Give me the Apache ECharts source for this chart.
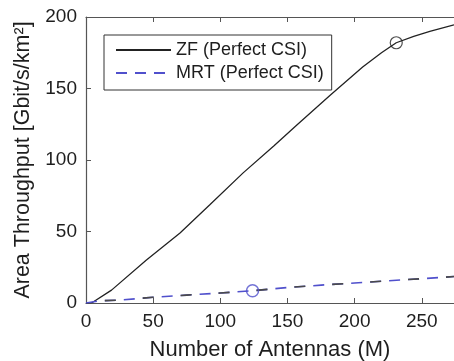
<!DOCTYPE html>
<html>
<head>
<meta charset="utf-8">
<script src="https://cdn.jsdelivr.net/npm/echarts@6/dist/echarts.min.js"></script>
<style>
html,body{margin:0;padding:0;background:#fff;}
#chart{width:454px;height:361px;}
</style>
</head>
<body>
<div id="chart"></div>
<script>
// ---- data ----
const zfAntennas = [0, 5, 19, 45, 70, 92, 117, 140, 157, 182, 206, 220, 231, 244, 256, 274];
const zfThroughput = [0, 0.5, 9, 30, 49, 68.5, 91, 110, 124.5, 145.5, 165, 175, 182, 186.5, 190, 194.5];
const mrtAntennas = [0, 10, 25, 50, 75, 100, 124, 150, 175, 200, 225, 250, 274];
const mrtThroughput = [0, 1.5, 2, 4, 5.5, 7, 8.6, 10.8, 12.5, 14, 15.5, 17, 18.5];
const zfMarker = [[231, 182]];
const mrtMarker = [[124, 8.6]];
const xTicks = [0, 50, 100, 150, 200, 250];
const yTicks = [0, 50, 100, 150, 200];
const seriesNames = ['ZF (Perfect CSI)', 'MRT (Perfect CSI)'];
const xTitle = 'Number of Antennas (M)';
const yTitle = 'Area Throughput [Gbit/s/km²]';

const FONT = '"Liberation Sans", Arial, sans-serif';
const AXIS = '#555';
const TXT = '#1e1e1e';
const BLUE = '#5050cc';

const pairs = (xs, ys) => xs.map((x, i) => [x, ys[i]]);

const chart = echarts.init(document.getElementById('chart'), null, {renderer: 'canvas'});
chart.setOption({
  animation: false,
  backgroundColor: '#fff',
  grid: {left: 86, right: 0, top: 17, bottom: 58, containLabel: false, outerBoundsMode: 'none'},
  legend: {
    show: true,
    orient: 'vertical',
    left: 104, top: 35,
    padding: [6, 8, 8, 11],
    itemGap: 5,
    itemWidth: 55, itemHeight: 14,
    borderColor: '#333', borderWidth: 1,
    backgroundColor: '#fff',
    itemStyle: {opacity: 0},
    textStyle: {fontFamily: FONT, fontSize: 18, color: TXT, lineHeight: 18},
    data: [seriesNames[0], seriesNames[1]]
  },
  xAxis: [{
    type: 'value', min: 0, max: 274, interval: 50, position: 'bottom',
    name: xTitle, nameLocation: 'middle', nameGap: 36,
    nameTextStyle: {fontFamily: FONT, fontSize: 22, color: TXT},
    axisLine: {show: true, lineStyle: {color: AXIS, width: 1.2}},
    axisTick: {show: true, inside: true, length: 5, lineStyle: {color: AXIS}},
    axisLabel: {fontFamily: FONT, fontSize: 19, color: TXT, margin: 9, showMaxLabel: false,
      formatter: v => xTicks.includes(v) ? String(v) : ''},
    splitLine: {show: false}
  }, {
    type: 'value', min: 0, max: 274, interval: 50, position: 'top',
    axisLine: {show: true, lineStyle: {color: AXIS, width: 1.2}},
    axisTick: {show: true, inside: true, length: 5, lineStyle: {color: AXIS}},
    axisLabel: {show: false},
    splitLine: {show: false}
  }],
  yAxis: {
    type: 'value', min: 0, max: 200, interval: 50,
    name: yTitle, nameLocation: 'middle', nameGap: 46, nameRotate: 90,
    nameTextStyle: {fontFamily: FONT, fontSize: 21.5, color: TXT},
    axisLine: {show: true, lineStyle: {color: AXIS, width: 1.2}},
    axisTick: {show: true, inside: true, length: 5, lineStyle: {color: AXIS}},
    axisLabel: {fontFamily: FONT, fontSize: 19, color: TXT, margin: 9,
      formatter: v => yTicks.includes(v) ? String(v) : ''},
    splitLine: {show: false}
  },
  series: [
    {
      name: seriesNames[0], type: 'line', data: pairs(zfAntennas, zfThroughput),
      symbol: 'none', lineStyle: {color: '#222', width: 1.3}, itemStyle: {color: '#222'}, z: 3
    },
    {
      name: seriesNames[1], type: 'line', data: pairs(mrtAntennas, mrtThroughput),
      symbol: 'none', lineStyle: {color: BLUE, width: 1.6, type: [11, 8]},
      itemStyle: {color: BLUE}, z: 3
    },
    {
      name: 'mrt-gray', type: 'line', data: pairs(mrtAntennas, mrtThroughput),
      symbol: 'none', lineStyle: {color: '#4a4a4a', width: 1.6, type: [11, 27], dashOffset: 19},
      itemStyle: {color: '#4a4a4a'}, z: 3
    },
    {
      name: 'zf-marker', type: 'scatter', data: zfMarker, symbol: 'circle', symbolSize: 12,
      itemStyle: {color: 'rgba(255,255,255,0)', borderColor: '#222', borderWidth: 1.2}, z: 4
    },
    {
      name: 'mrt-marker', type: 'scatter', data: mrtMarker, symbol: 'circle', symbolSize: 12,
      itemStyle: {color: 'rgba(255,255,255,0)', borderColor: BLUE, borderWidth: 1.5}, z: 4
    }
  ]
});
</script>
</body>
</html>
